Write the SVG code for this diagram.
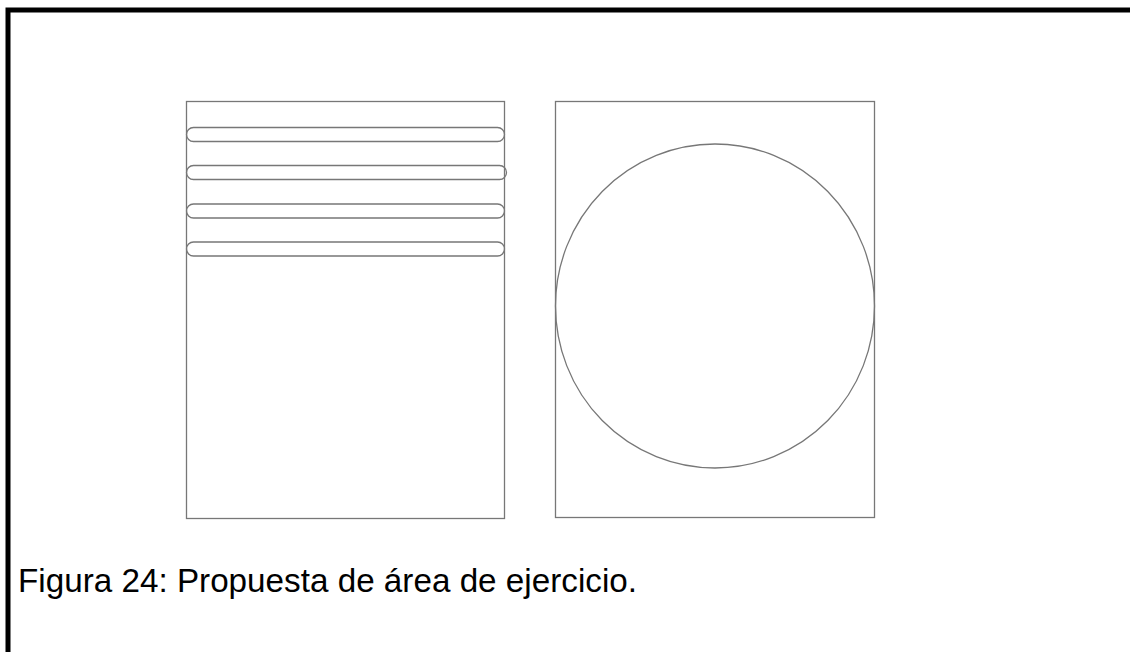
<svg xmlns="http://www.w3.org/2000/svg" width="1130" height="652" viewBox="0 0 1130 652">
  <style>
    .frame { fill: none; stroke: #000; stroke-width: 5; }
    .shape { fill: none; stroke: #777; stroke-width: 1.3; }
    .caption { font-family: "Liberation Sans", Arial, sans-serif; font-size: 33px; fill: #000; }
  </style>
  <rect width="1130" height="652" fill="#fff"/>
  <path class="frame" d="M8,652 V10 H1130"/>
  <g id="left-area">
    <rect class="shape" x="186.5" y="101.5" width="318" height="417"/>
    <rect class="shape" x="186.5" y="127.5" width="318" height="14" rx="7" ry="7"/>
    <rect class="shape" x="186.5" y="165.5" width="320" height="14" rx="7" ry="7"/>
    <rect class="shape" x="186.5" y="204" width="318" height="14" rx="7" ry="7"/>
    <rect class="shape" x="186.5" y="242" width="318" height="14" rx="7" ry="7"/>
  </g>
  <g id="right-area">
    <rect class="shape" x="555.5" y="101.5" width="319" height="416"/>
    <ellipse class="shape" cx="715" cy="306" rx="159.5" ry="162"/>
  </g>
  <text class="caption" x="18" y="592" textLength="619" lengthAdjust="spacingAndGlyphs">Figura 24: Propuesta de área de ejercicio.</text>
</svg>
